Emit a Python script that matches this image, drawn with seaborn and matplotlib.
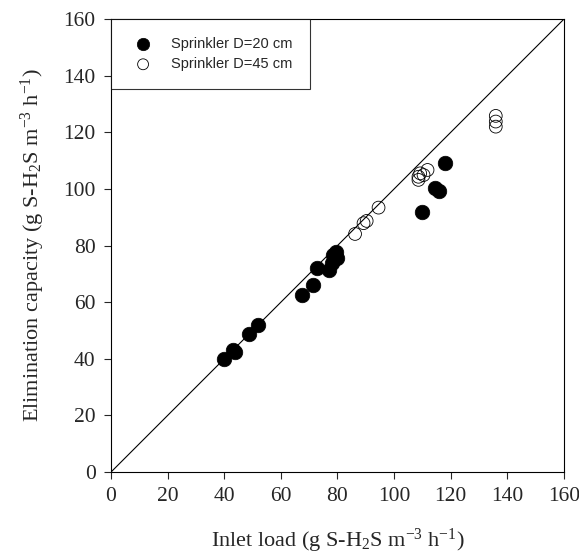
import pandas as pd
import matplotlib.pyplot as plt
import seaborn as sns

sns.set_style("ticks")
plt.rcParams['font.family'] = ['Liberation Serif', 'DejaVu Serif']
plt.rcParams['mathtext.fontset'] = 'custom'
plt.rcParams['mathtext.rm'] = 'Liberation Serif'
plt.rcParams['mathtext.it'] = 'Liberation Serif:italic'

# Sprinkler D=20 cm (filled)
load_20 = [40.0, 43.2, 43.8, 48.8, 52.0, 67.4, 71.5, 72.7, 77.1, 78.0, 78.5, 79.5, 79.7, 109.7, 114.5, 115.9, 118.0]
ec_20 = [39.9, 43.1, 42.4, 48.6, 52.0, 62.5, 66.0, 72.0, 71.2, 73.7, 76.5, 77.6, 75.5, 91.8, 100.2, 99.2, 109.3]

# Sprinkler D=45 cm (open)
load_45 = [86.2, 89.2, 90.3, 94.5, 108.6, 108.6, 109.2, 110.4, 111.8, 135.9, 135.9, 135.9]
ec_45 = [84.1, 87.9, 88.7, 93.4, 104.3, 103.2, 105.5, 104.9, 106.7, 125.8, 123.8, 122.0]

labels = ['Sprinkler D=20 cm', 'Sprinkler D=45 cm']

df = pd.DataFrame({
    'load': load_20 + load_45,
    'ec': ec_20 + ec_45,
    'group': [labels[0]] * len(load_20) + [labels[1]] * len(load_45),
})

fig = plt.figure(figsize=(5.79, 5.60), dpi=100)
ax = fig.add_axes([0.1917, 0.157, 0.7824, 0.809])

# 1:1 line
ax.plot([0, 160], [0, 160], color='black', linewidth=0.8, zorder=1)

sns.scatterplot(data=df[df['group'] == labels[0]], x='load', y='ec', ax=ax,
                color='black', edgecolor='black', s=110, linewidth=0.5,
                label=labels[0], zorder=3)
sns.scatterplot(data=df[df['group'] == labels[1]], x='load', y='ec', ax=ax,
                facecolor='none', edgecolor='black', s=85, linewidth=0.6,
                label=labels[1], zorder=3)

ax.set_xlim(0, 160)
ax.set_ylim(0, 160)
ax.set_xticks(range(0, 161, 20))
ax.set_yticks(range(0, 161, 20))
ax.tick_params(direction='out', length=5, width=0.8, labelsize=15.5, pad=6)
for sp in ax.spines.values():
    sp.set_linewidth(0.8)
    sp.set_color('black')

ax.set_xlabel(r'Inlet load (g S-H$_2$S m$^{-3}$ h$^{-1}$)', fontsize=16, labelpad=15)
ax.set_ylabel(r'Elimination capacity (g S-H$_2$S m$^{-3}$ h$^{-1}$)', fontsize=16, labelpad=12)

leg = ax.legend(loc='upper left', bbox_to_anchor=(0.0, 1.0), frameon=True, fancybox=False,
                edgecolor='black', borderpad=1.2, handletextpad=0.9, borderaxespad=0,
                labelspacing=0.45, prop={'family': 'Liberation Sans', 'size': 10.5},
                markerscale=0.85)
leg.get_frame().set_linewidth(0.8)

fig.savefig('out.png', dpi=100)
